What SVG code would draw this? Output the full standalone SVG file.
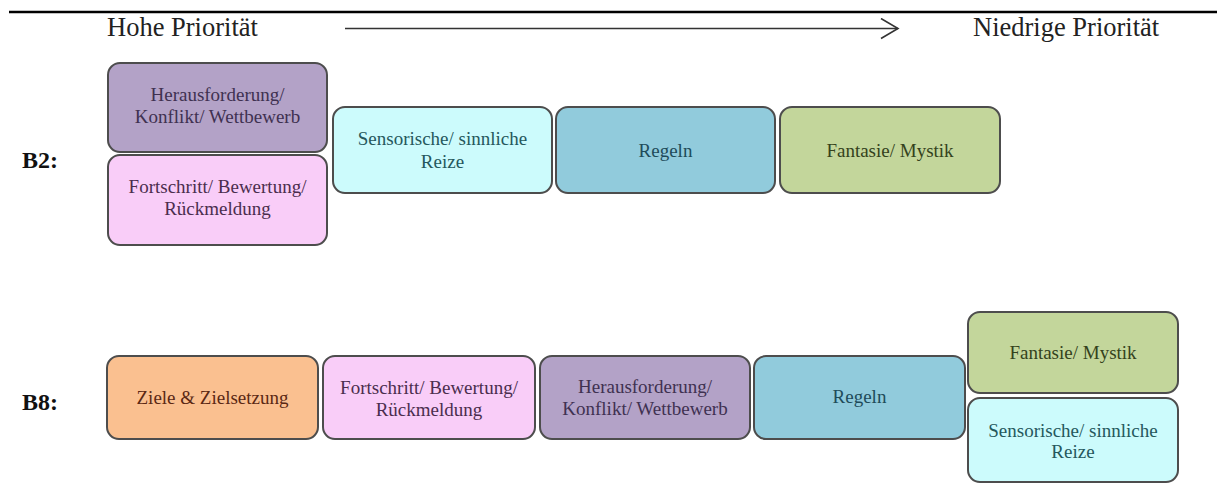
<svg xmlns="http://www.w3.org/2000/svg" width="1217" height="495" viewBox="0 0 1217 495">
  <style>
    .head { font-family: "Liberation Serif", "Times New Roman", serif; font-size: 26.5px; fill: #222; }
    .lbl { font-family: "Liberation Serif", "Times New Roman", serif; font-size: 24px; font-weight: bold; fill: #111; }
    .box { stroke: #4d4d4d; stroke-width: 2; }
    .bt { font-family: "Liberation Serif", "Times New Roman", serif; font-size: 19px; text-anchor: middle; }
    .purple rect { fill: #b3a2c7; } .purple text { fill: #3f3151; }
    .pink rect { fill: #f9cdf8; } .pink text { fill: #4b2d4e; }
    .cyan rect { fill: #ccfbfc; } .cyan text { fill: #25585c; }
    .blue rect { fill: #91cbdc; } .blue text { fill: #1e4b5a; }
    .green rect { fill: #c3d69b; } .green text { fill: #34421c; }
    .orange rect { fill: #fac090; } .orange text { fill: #5a2814; }
  </style>
  <defs>
    <marker id="open" markerWidth="20" markerHeight="22" refX="18" refY="11" orient="auto" markerUnits="userSpaceOnUse">
      <path d="M1,1 L18,11 L1,21" fill="none" stroke="#333" stroke-width="1.6"/>
    </marker>
  </defs>

  <rect width="1217" height="495" fill="#fff"/>

  <!-- header rule and priority axis -->
  <line x1="9" y1="12" x2="1217" y2="12" stroke="#000" stroke-width="2.5"/>
  <text class="head" x="107" y="36">Hohe Priorität</text>
  <text class="head" x="973" y="36">Niedrige Priorität</text>
  <g id="connectors">
    <line x1="345" y1="28.5" x2="898" y2="28.5" stroke="#333" stroke-width="1.6" marker-end="url(#open)"/>
  </g>

  <!-- row labels -->
  <text class="lbl" x="22" y="168">B2:</text>
  <text class="lbl" x="22" y="410">B8:</text>

  <g font-family="Liberation Serif, Times New Roman, serif" font-size="19" text-anchor="middle">
  <!-- B2 row -->
  <g id="b2-herausforderung" class="purple">
    <rect class="box" x="108" y="63" width="219" height="89" rx="12"/>
    <text class="bt" x="217.5" y="101">Herausforderung/</text>
    <text class="bt" x="217.5" y="123">Konflikt/ Wettbewerb</text>
  </g>
  <g id="b2-fortschritt" class="pink">
    <rect class="box" x="108" y="155" width="219" height="90" rx="12"/>
    <text class="bt" x="217.5" y="193">Fortschritt/ Bewertung/</text>
    <text class="bt" x="217.5" y="215">Rückmeldung</text>
  </g>
  <g id="b2-sensorisch" class="cyan">
    <rect class="box" x="333" y="107" width="219" height="86" rx="12"/>
    <text class="bt" x="442.5" y="145">Sensorische/ sinnliche</text>
    <text class="bt" x="442.5" y="168">Reize</text>
  </g>
  <g id="b2-regeln" class="blue">
    <rect class="box" x="556" y="107" width="219" height="86" rx="12"/>
    <text class="bt" x="665.5" y="157">Regeln</text>
  </g>
  <g id="b2-fantasie" class="green">
    <rect class="box" x="780" y="107" width="220" height="86" rx="12"/>
    <text class="bt" x="890" y="157">Fantasie/ Mystik</text>
  </g>

  <!-- B8 row -->
  <g id="b8-ziele" class="orange">
    <rect class="box" x="107" y="356" width="211" height="83" rx="12"/>
    <text class="bt" x="212.5" y="404">Ziele &amp; Zielsetzung</text>
  </g>
  <g id="b8-fortschritt" class="pink">
    <rect class="box" x="323" y="356" width="212" height="83" rx="12"/>
    <text class="bt" x="429" y="394">Fortschritt/ Bewertung/</text>
    <text class="bt" x="429" y="416">Rückmeldung</text>
  </g>
  <g id="b8-herausforderung" class="purple">
    <rect class="box" x="540" y="356" width="210" height="83" rx="12"/>
    <text class="bt" x="645" y="393">Herausforderung/</text>
    <text class="bt" x="645" y="415">Konflikt/ Wettbewerb</text>
  </g>
  <g id="b8-regeln" class="blue">
    <rect class="box" x="754" y="356" width="211" height="83" rx="12"/>
    <text class="bt" x="859.5" y="403">Regeln</text>
  </g>
  <g id="b8-fantasie" class="green">
    <rect class="box" x="968" y="312" width="210" height="81" rx="12"/>
    <text class="bt" x="1073" y="359">Fantasie/ Mystik</text>
  </g>
  <g id="b8-sensorisch" class="cyan">
    <rect class="box" x="968" y="398" width="210" height="84" rx="12"/>
    <text class="bt" x="1073" y="437">Sensorische/ sinnliche</text>
    <text class="bt" x="1073" y="458">Reize</text>
  </g>
  </g>
</svg>
